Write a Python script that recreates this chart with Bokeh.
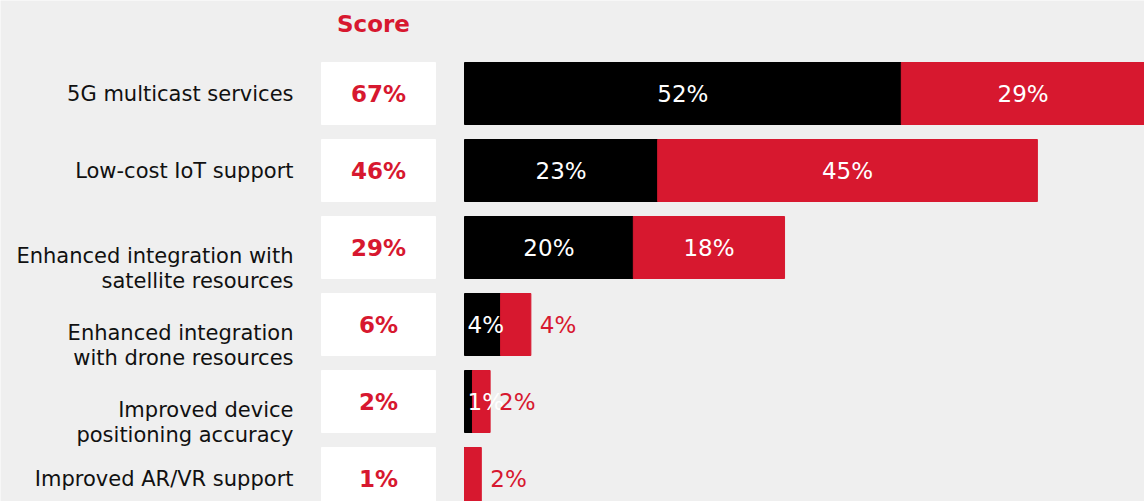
from bokeh.plotting import figure
from bokeh.models import Range1d, ColumnDataSource
from bokeh.core.properties import value
from bokeh.embed import file_html
from bokeh.resources import INLINE

# ---- data ----
categories = [
    "5G multicast services",
    "Low-cost IoT support",
    "Enhanced integration with\nsatellite resources",
    "Enhanced integration\nwith drone resources",
    "Improved device\npositioning accuracy",
    "Improved AR/VR support",
]
scores = [67, 46, 29, 6, 2, 1]
black_vals = [52, 23, 20.1, 4.3, 0.95, 0]
red_vals = [29, 45.2, 18, 3.6, 2.1, 2]

RED = "#D7182F"
BG = "#EFEFEF"
FONT = "DejaVu Sans"

W, H = 1144, 501
ORIGIN = 0            # screen px of figure's left/top edge
PX_PER_PCT = 8.4
BAR_X0 = 464          # screen px where 0% sits
ROW0 = 93             # screen y of first row centre
ROW_STEP = 77

xmin = -(BAR_X0 - ORIGIN) / PX_PER_PCT
xmax = xmin + W / PX_PER_PCT
ytop = (ORIGIN - ROW0) / ROW_STEP
ybot = (ORIGIN + H - ROW0) / ROW_STEP

p = figure(width=W, height=H, output_backend="svg", toolbar_location=None,
           x_range=Range1d(xmin, xmax), y_range=Range1d(ybot, ytop),
           min_border=0, min_border_left=0, min_border_right=0,
           min_border_top=0, min_border_bottom=0)
p.extra_x_ranges = {"px": Range1d(ORIGIN, ORIGIN + W)}
p.axis.visible = False
p.grid.visible = False
p.outline_line_color = None
p.background_fill_color = BG
p.border_fill_color = BG

rows = list(range(len(categories)))
bar_h = 62 / ROW_STEP

# stacked bars
src = ColumnDataSource(dict(
    y=rows,
    b0=[0] * len(rows), b1=black_vals,
    r0=black_vals, r1=[b + r for b, r in zip(black_vals, red_vals)],
))
p.hbar(y="y", left="b0", right="b1", height=bar_h, color="#000000", source=src)
p.hbar(y="y", left="r0", right="r1", height=bar_h, color=RED, source=src)

# score boxes + values
box_src = ColumnDataSource(dict(y=rows, x=[378] * len(rows),
                                t=[f"{s}%" for s in scores]))
p.rect(x="x", y="y", width=114, height=bar_h, color="white",
       x_range_name="px", source=box_src)
p.text(x="x", y="y", text="t", source=box_src, x_range_name="px",
       text_align="center", text_baseline="middle", text_color=RED,
       text_font=value(FONT), text_font_style="bold", text_font_size="23px")

# Score header
p.text(x=[373], y=[ytop], text=["Score"], x_range_name="px", y_offset=23,
       text_align="center", text_baseline="middle", text_color=RED,
       text_font=value(FONT), text_font_style="bold", text_font_size="23px")

# category labels (split lines)
lx, ly, lt, lo = [], [], [], []
for i, c in enumerate(categories):
    parts = c.split("\n")
    if len(parts) == 1:
        lx.append(293); ly.append(i); lt.append(parts[0]); lo.append(0)
    else:
        for j, part in enumerate(parts):
            lx.append(293); ly.append(i); lt.append(part); lo.append(8 + 25 * j)
lab_src = ColumnDataSource(dict(x=lx, y=ly, t=lt, o=lo))
p.text(x="x", y="y", text="t", y_offset="o", source=lab_src, x_range_name="px",
       text_align="right", text_baseline="middle", text_color="#111111",
       text_font=value(FONT), text_font_size="21px")

# segment labels
TXT_W = 4.6  # approx label width in % units
cx, cy, ct = [], [], []              # white, centred
lx2, ly2, lt2 = [], [], []           # white, left aligned (narrow black)
ox, oy, ot = [], [], []              # red, outside
for i, (b, r) in enumerate(zip(black_vals, red_vals)):
    if b > 0:
        if b >= TXT_W:
            cx.append(b / 2); cy.append(i); ct.append(f"{round(b)}%")
        else:
            lx2.append(0); ly2.append(i); lt2.append(f"{round(b)}%")
    if r > 0:
        if r >= TXT_W + 1:
            cx.append(b + r / 2); cy.append(i); ct.append(f"{round(r)}%")
        else:
            ox.append(b + r); oy.append(i); ot.append(f"{round(r)}%")

p.text(x=cx, y=cy, text=ct, text_align="center", text_baseline="middle",
       text_color="white", text_font=value(FONT), text_font_size="23px")
p.text(x=lx2, y=ly2, text=lt2, x_offset=3, text_align="left", text_baseline="middle",
       text_color="white", text_font=value(FONT), text_font_size="23px")
p.text(x=ox, y=oy, text=ot, x_offset=9, text_align="left", text_baseline="middle",
       text_color=RED, text_font=value(FONT), text_font_size="23px")

open("out.html", "w").write(file_html(p, INLINE))
